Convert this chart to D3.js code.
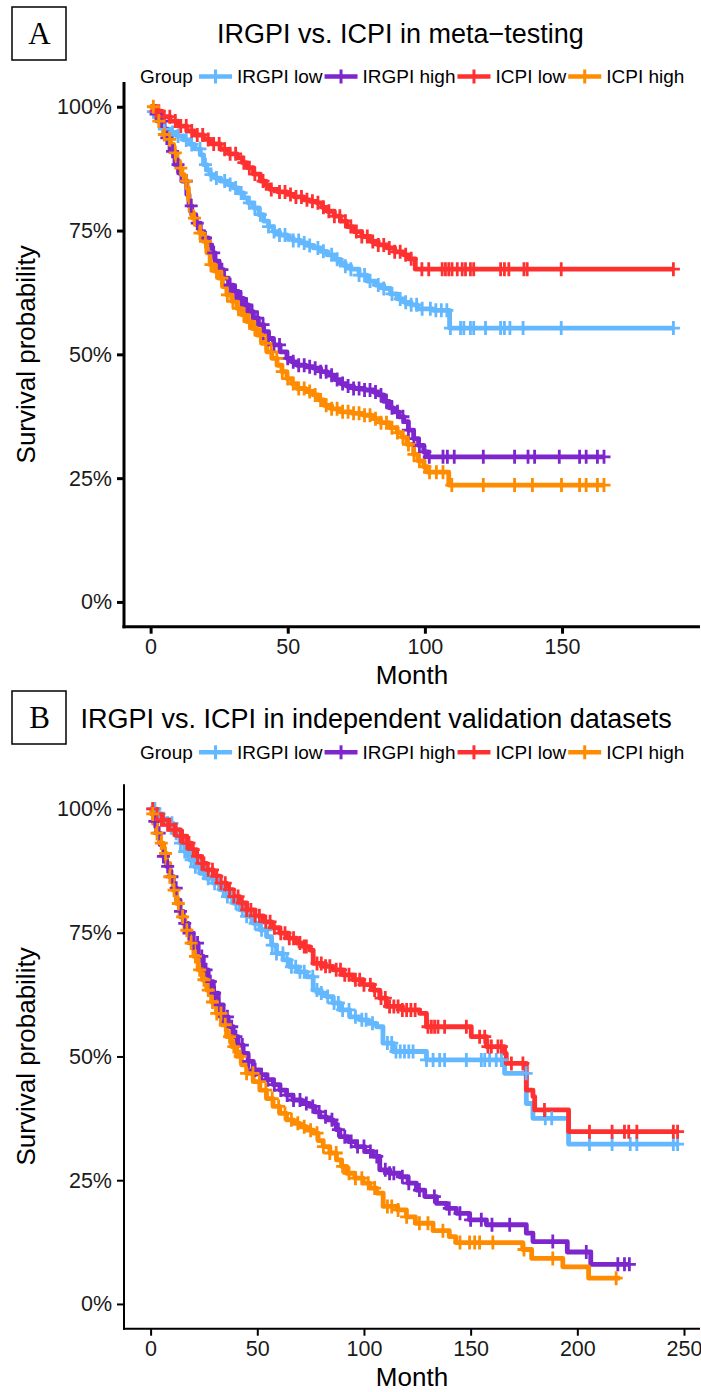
<!DOCTYPE html>
<html><head><meta charset="utf-8">
<script src="https://cdn.jsdelivr.net/npm/d3@7"></script>
<style>
body{margin:0;background:#fff}
svg{display:block}
text{font-family:"Liberation Sans",Arial,Helvetica,sans-serif}
</style>
</head><body>
<svg id="chart" width="701" height="1392"></svg>
<script>
// ---------- DATA ----------
const groups = ["IRGPI low", "IRGPI high", "ICPI low", "ICPI high"];
const groupColors = ["#63B8FF", "#7D26CD", "#FF3030", "#FF8C00"];
const yTickValues = [0, 0.25, 0.5, 0.75, 1];
const yTickLabels = ["0%", "25%", "50%", "75%", "100%"];
const xTicksA = [0, 50, 100, 150];
const xTicksB = [0, 50, 100, 150, 200, 250];
const titleA = "IRGPI vs. ICPI in meta\u2212testing";
const titleB = "IRGPI vs. ICPI in independent validation datasets";

// Panel A survival curves: [month, survival]
const A_irgpiLow = [[0,1],[1,0.99],[2,0.98],[3.5,0.965],[5,0.955],[7,0.948],[9.6,0.941],[12,0.933],[14.4,0.924],[16,0.915],[18.1,0.903],[19.3,0.883],[20.5,0.872],[21.7,0.863],[23.5,0.856],[25.4,0.85],[28,0.843],[30.2,0.836],[32,0.826],[33.9,0.816],[35.5,0.806],[37.5,0.796],[39.5,0.782],[41.2,0.769],[43,0.758],[44.8,0.748],[47,0.741],[49.7,0.735],[52,0.73],[54.6,0.725],[57,0.72],[59.4,0.715],[62,0.708],[64.3,0.701],[67,0.692],[69.2,0.684],[71,0.678],[73,0.672],[76,0.66],[78.9,0.648],[82,0.64],[85,0.633],[87.5,0.622],[89.9,0.612],[92.5,0.605],[95,0.6],[97.2,0.592],[103,0.589],[109,0.553],[190.6,0.553]];
const A_irgpiHigh = [[0,1],[2,0.985],[3.5,0.971],[4.8,0.955],[5.9,0.937],[7.1,0.91],[8.9,0.883],[10.2,0.866],[11.4,0.85],[13.2,0.823],[14,0.8],[15,0.782],[16.5,0.765],[18.1,0.748],[19.5,0.735],[21.1,0.721],[22.3,0.705],[23.5,0.688],[25,0.671],[26.6,0.654],[28.4,0.64],[30.2,0.627],[32,0.613],[33.9,0.6],[35.7,0.586],[37.5,0.573],[39.3,0.56],[41.2,0.546],[43,0.532],[44.8,0.519],[47.2,0.505],[49.7,0.492],[51.5,0.485],[53.4,0.478],[56.5,0.475],[59.4,0.472],[62,0.465],[64.3,0.458],[67,0.449],[69.2,0.441],[71.5,0.436],[74,0.431],[78,0.428],[81.3,0.424],[83,0.418],[85,0.405],[87,0.392],[88.6,0.384],[90.5,0.374],[92.3,0.364],[94,0.347],[95.9,0.33],[97.7,0.316],[99.6,0.303],[101,0.293],[165.3,0.293]];
const A_icpiLow = [[0,1],[1,0.991],[4,0.98],[7.1,0.971],[10,0.961],[13.2,0.951],[16,0.943],[19.3,0.934],[22,0.925],[25.4,0.914],[28.5,0.905],[31.5,0.897],[33.5,0.887],[35.1,0.877],[37.5,0.864],[40,0.85],[42,0.841],[43.6,0.833],[46.5,0.828],[49.7,0.823],[52.5,0.818],[55.8,0.812],[58,0.809],[60.7,0.806],[62.5,0.797],[64.3,0.789],[67,0.779],[69.2,0.769],[71.5,0.758],[74,0.748],[77,0.738],[80.1,0.728],[83,0.721],[86.2,0.715],[89,0.707],[92.3,0.701],[94,0.693],[96.5,0.672],[190.6,0.672]];
const A_icpiHigh = [[0,1],[1.2,0.985],[2.3,0.971],[3.5,0.958],[4.7,0.944],[5.9,0.934],[7.1,0.924],[8.4,0.907],[9.6,0.89],[10.5,0.876],[11.4,0.863],[12.3,0.85],[13.2,0.836],[13.8,0.812],[14.4,0.789],[15.3,0.775],[16.2,0.762],[17.8,0.745],[19.3,0.728],[20.5,0.705],[21.7,0.681],[23.2,0.668],[24.7,0.654],[26.2,0.637],[27.8,0.62],[29.6,0.607],[31.5,0.593],[33.3,0.58],[35.1,0.566],[37,0.552],[38.8,0.539],[40.6,0.522],[42.4,0.505],[44.2,0.492],[46.1,0.478],[47.9,0.465],[49.7,0.451],[51.5,0.441],[53.4,0.431],[56.4,0.425],[59.4,0.418],[61.2,0.408],[63.1,0.397],[66,0.39],[69.2,0.384],[73.5,0.381],[77.7,0.377],[80.7,0.37],[83.8,0.362],[87,0.352],[89.9,0.342],[91.7,0.333],[93.5,0.318],[95.9,0.298],[97.5,0.285],[99.6,0.273],[101,0.262],[108.7,0.236],[165.3,0.236]];

// Panel A censoring times (month)
const A_irgpiLowCensor = [1,3,5,8,10,13,15,18,20,22,24,27,29,31,33,36,38,40,43,45,47,49,52,54,56,58,61,63,66,68,71,73,76,78,80,83,85,88,91,93,95,97,99,102,104,106,108,109.3,113,114.2,116.6,117.8,122.1,127.6,129,131,135.8,149.7,190.6];
const A_irgpiHighCensor = [2,4,5.9,8,10,13,14.8,17,20,23,26,29,31,33,35,37,39,41,43,45,47,50,52,54,56,58,60,62,64,66,68,70,72,74,76,78,80,82,84,86,88,90,92,94,96,98,100,101.6,106.6,108.2,110.7,121.3,132.7,137.6,140,149,156.4,158.8,162.9,165.3];
const A_icpiLowCensor = [2,3,5,7,9,11,13,15,17,19,21,23,25,27,29,31,34,36,38,41,44,47,49,51,53,55,57,59,61,63,65,67,69,71,73,75,77,79,81,83,85,87,89,91,93,95,98.9,101.4,106.3,107.5,108.7,109.9,111.8,113.6,114.8,116.6,117.8,127.6,129,130.6,136.1,137.3,149.7,190.6];
const A_icpiHighCensor = [1,3,5,7,9,11,13,16,18,20,22,24,26,28,30,32,34,36,38,40,42,44,46,48,50,52,54,56,58,60,62,64,66,68,70,72,74,76,78,80,82,84,86,88,90,92,94,96,98,100,101.7,104.2,106.6,109.8,121.3,132.7,139.2,149.8,156.4,158.8,162.9,165.3];

// Panel B survival curves: [month, survival]
const B_irgpiLow = [[0,1],[2.5,0.99],[5,0.98],[7.5,0.971],[10.6,0.951],[13.8,0.931],[16,0.914],[18.4,0.897],[20.7,0.883],[23.1,0.87],[26.2,0.86],[29.4,0.85],[32.5,0.837],[35.6,0.823],[38.7,0.81],[41.9,0.796],[45,0.783],[48.1,0.769],[51.2,0.756],[54.4,0.742],[56.7,0.725],[59,0.708],[62.1,0.695],[65.3,0.681],[69.2,0.671],[73.1,0.661],[76.2,0.634],[79.3,0.628],[82.4,0.621],[85.5,0.608],[88.7,0.594],[93.3,0.58],[98,0.574],[101.9,0.567],[105.9,0.56],[108.9,0.527],[113.6,0.51],[129.3,0.493],[165.9,0.466],[176.1,0.405],[179.2,0.375],[195.9,0.323],[247,0.323]];
const B_irgpiHigh = [[0,1],[1.5,0.975],[2.8,0.951],[4.4,0.928],[6,0.904],[7.5,0.884],[9.1,0.863],[10.7,0.84],[12.2,0.816],[13.8,0.793],[15.3,0.769],[17.6,0.749],[20,0.729],[22.3,0.702],[24.7,0.675],[27,0.651],[29.4,0.628],[31.7,0.604],[34,0.58],[36.4,0.56],[38.7,0.54],[41,0.523],[43.4,0.506],[45.7,0.49],[48.1,0.473],[51.2,0.463],[54.4,0.453],[57.5,0.443],[60.6,0.432],[63.7,0.422],[66.8,0.412],[70.7,0.405],[74.6,0.399],[77,0.388],[79.3,0.378],[82.4,0.372],[85.5,0.365],[87,0.352],[88.7,0.338],[92.6,0.328],[96.5,0.318],[100.4,0.308],[104.3,0.298],[107.4,0.271],[112,0.264],[116.8,0.257],[120.7,0.244],[124.6,0.23],[128.5,0.217],[134,0.203],[138.8,0.193],[143.3,0.183],[149.5,0.17],[157.4,0.16],[176.1,0.143],[179.2,0.126],[195.3,0.105],[206.3,0.08],[224.4,0.08]];
const B_icpiLow = [[0,1],[2,0.99],[4.4,0.978],[7.5,0.968],[10.6,0.958],[13.8,0.945],[16.9,0.931],[19.2,0.918],[21.6,0.904],[24,0.89],[26.3,0.877],[29.4,0.864],[32.5,0.85],[35.6,0.837],[38.7,0.823],[41.8,0.81],[45,0.796],[48.9,0.784],[52.8,0.772],[56.7,0.76],[60.6,0.749],[64.5,0.739],[68.4,0.729],[71.5,0.722],[74.6,0.715],[76.2,0.688],[80.8,0.682],[85.5,0.675],[90.2,0.665],[94.9,0.655],[99.6,0.645],[104.3,0.634],[107.4,0.618],[110.5,0.601],[118,0.594],[126.1,0.587],[129.3,0.56],[150.3,0.54],[157.4,0.52],[165.9,0.506],[166.7,0.486],[176.1,0.432],[179.2,0.419],[180,0.392],[195.9,0.348],[247,0.348]];
const B_icpiHigh = [[0,1],[0.5,0.99],[1.3,0.971],[2.8,0.951],[4.4,0.931],[6,0.91],[7.5,0.89],[9,0.863],[10.6,0.836],[12.2,0.809],[13.8,0.782],[16.1,0.755],[18.4,0.729],[20.3,0.702],[22.3,0.675],[24.3,0.655],[26.3,0.634],[28.6,0.61],[30.9,0.587],[33.2,0.564],[35.6,0.54],[38,0.52],[40.3,0.5],[42.6,0.483],[45,0.466],[48.1,0.449],[51.2,0.432],[54.3,0.415],[57.4,0.399],[60.5,0.385],[63.7,0.372],[66.8,0.365],[69.9,0.358],[73,0.351],[76.2,0.345],[78.5,0.33],[80.9,0.318],[84,0.305],[87.1,0.291],[89.5,0.278],[91.8,0.264],[95.7,0.254],[99.6,0.244],[102.7,0.234],[105.9,0.224],[109,0.197],[115.8,0.19],[119.9,0.176],[124.1,0.163],[132.4,0.148],[140,0.136],[143,0.124],[174.4,0.11],[178.6,0.092],[193.2,0.075],[205.3,0.052],[220,0.052]];

// Panel B censoring times (month)
const B_irgpiLowCensor = [1,2,4,6,8,10,12,14,16,17,19,21,23,25,27,30,32,34,36,38,40,43,45,47,49,52,54,57,59,62,64,66,68,70,72,76,78,80,83,86,88,90,93,96,99,101,104,111,113,115,117,119,121,123,129.3,132.4,135.5,137.8,148,155,156.6,158.9,162,164.4,176,185,188,205.7,216.3,224.8,227.9,245,247];
const B_irgpiHighCensor = [2,4,6,8,10,12,14,16,18,20,22,24,26,28,30,32,34,36,38,40,43,46,49,52,55,58,61,64,67,70,73,76,79,82,85,88,91,94,97,100,103,106,110,112,114,118,121,126,133,140,145,150,155,160,168.3,188.5,204.2,219,222.1,224.4];
const B_icpiLowCensor = [1,3,5,6,8,9,11,12,14,15,17,18,20,22,24,25,27,29,31,33,35,37,39,41,43,45,47,49,51,54,56,58,61,63,65,67,70,72,73,78,80,82,84,87,89,91,93,96,98,100,103,105,108,110,112,114,116,118,120,122,124,130,131.6,133.1,134.7,137.8,148,154.2,156.6,158.1,159.7,162.8,164.4,169.1,174.5,184.6,205.7,216.3,222.1,224.1,227.9,245,247];
const B_icpiHighCensor = [1,3,5,7,9,11,13,15,17,19,21,23,25,27,29,31,33,35,37,39,42,45,48,51,54,57,60,63,66,69,72,75,78,81,84,87,90,93,96,99,102,105,111,113,116,120,126,130,137,145,149.5,151.9,154.2,160.4,175,188.5,218.2];

// ---------- DRAW ----------
const svg = d3.select("#chart");
const TXT = "#1a1a1a";

function drawPanel(p) {
  const g = svg.append("g");
  const x = d3.scaleLinear().domain(p.xDomain).range([124, 700]);
  const y = d3.scaleLinear().domain([-0.05, 1.05]).range([p.bottom, p.top]);

  // letter box
  g.append("rect").attr("x", 12).attr("y", p.boxY).attr("width", 54).attr("height", 53)
    .attr("fill", "none").attr("stroke", "#000").attr("stroke-width", 1.5);
  g.append("text").attr("x", 39.5).attr("y", p.boxY + 37).attr("text-anchor", "middle")
    .style("font-family", "'Liberation Serif','Times New Roman',serif").style("font-size", "31px")
    .attr("fill", "#000").text(p.letter);

  // title
  g.append("text").attr("x", p.titleX).attr("y", p.titleY).style("font-size", "27px")
    .attr("fill", "#000").text(p.title);

  // legend
  const lg = g.append("g").attr("transform", `translate(0,${p.legendY})`);
  lg.append("text").attr("x", 140).attr("y", 6.5).style("font-size", "19px").attr("fill", "#000").text("Group");
  let cursor = 198;
  groups.forEach((name, i) => {
    lg.append("line").attr("x1", cursor + 1).attr("x2", cursor + 34).attr("y1", 0).attr("y2", 0)
      .attr("stroke", groupColors[i]).attr("stroke-width", 4.5);
    lg.append("line").attr("x1", cursor + 17.5).attr("x2", cursor + 17.5).attr("y1", -7).attr("y2", 7)
      .attr("stroke", groupColors[i]).attr("stroke-width", 3);
    const t = lg.append("text").attr("x", cursor + 39).attr("y", 6.5).style("font-size", "19px")
      .attr("fill", "#000").text(name);
    cursor = cursor + 39 + t.node().getComputedTextLength() + 1;
  });

  // curves
  const line = d3.line().x(d => x(d[0])).y(d => y(d[1])).curve(d3.curveStepAfter);
  p.curves.forEach((c, i) => {
    g.append("path").attr("d", line(c)).attr("fill", "none")
      .attr("stroke", groupColors[i]).attr("stroke-width", 4.8).attr("stroke-linejoin", "round");
  });
  const bis = d3.bisector(d => d[0]).right;
  p.censors.forEach((cs, i) => {
    const c = p.curves[i];
    cs.forEach(t => {
      const idx = Math.max(0, bis(c, t) - 1);
      const cx = x(t), cy = y(c[idx][1]);
      g.append("path").attr("d", `M${cx},${cy - 7}V${cy + 7}M${cx - 6.5},${cy}H${cx + 6.5}`)
        .attr("stroke", groupColors[i]).attr("stroke-width", 2.8).attr("fill", "none");
    });
  });

  // axes
  const yAxis = d3.axisLeft(y).tickValues(yTickValues).tickFormat((d, i) => yTickLabels[i])
    .tickSize(7).tickSizeOuter(0).tickPadding(5);
  const ya = g.append("g").attr("transform", "translate(124,0)").call(yAxis);
  const xAxis = d3.axisBottom(x).tickValues(p.xTicks).tickFormat(d3.format("d"))
    .tickSize(7).tickSizeOuter(0).tickPadding(5);
  const xa = g.append("g").attr("transform", `translate(0,${p.bottom})`).call(xAxis);
  [ya, xa].forEach(a => {
    a.select(".domain").attr("stroke", "#000").attr("stroke-width", p.axisW);
    a.selectAll(".tick line").attr("stroke", "#000").attr("stroke-width", p.axisW);
    a.selectAll(".tick text").style("font-size", "21.5px").style("font-family", "'Liberation Sans',Arial,sans-serif").attr("fill", TXT);
  });
  ya.select(".domain").attr("d", `M0,${p.top}V${p.bottom + p.axisW / 2}`);
  xa.select(".domain").attr("d", `M${124 - p.axisW / 2},0H700`);

  // axis titles
  g.append("text").attr("x", 412).attr("y", p.bottom + 57.5).attr("text-anchor", "middle")
    .style("font-size", "26px").attr("fill", "#000").text("Month");
  g.append("text").attr("transform", `translate(35,${(p.top + p.bottom) / 2}) rotate(-90)`)
    .attr("text-anchor", "middle").style("font-size", "26px").attr("fill", "#000").text("Survival probability");
}

drawPanel({
  letter: "A", boxY: 7, title: titleA, titleX: 217, titleY: 43,
  legendY: 76.5, top: 82, bottom: 626.7, axisW: 3,
  xDomain: [-9.7, 200.3], xTicks: xTicksA,
  curves: [A_irgpiLow, A_irgpiHigh, A_icpiLow, A_icpiHigh],
  censors: [A_irgpiLowCensor, A_irgpiHighCensor, A_icpiLowCensor, A_icpiHighCensor]
});
drawPanel({
  letter: "B", boxY: 691, title: titleB, titleX: 80.5, titleY: 728,
  legendY: 752.3, top: 784.2, bottom: 1328.7, axisW: 2,
  xDomain: [-12.47, 257.5], xTicks: xTicksB,
  curves: [B_irgpiLow, B_irgpiHigh, B_icpiLow, B_icpiHigh],
  censors: [B_irgpiLowCensor, B_irgpiHighCensor, B_icpiLowCensor, B_icpiHighCensor]
});
</script>
</body></html>
